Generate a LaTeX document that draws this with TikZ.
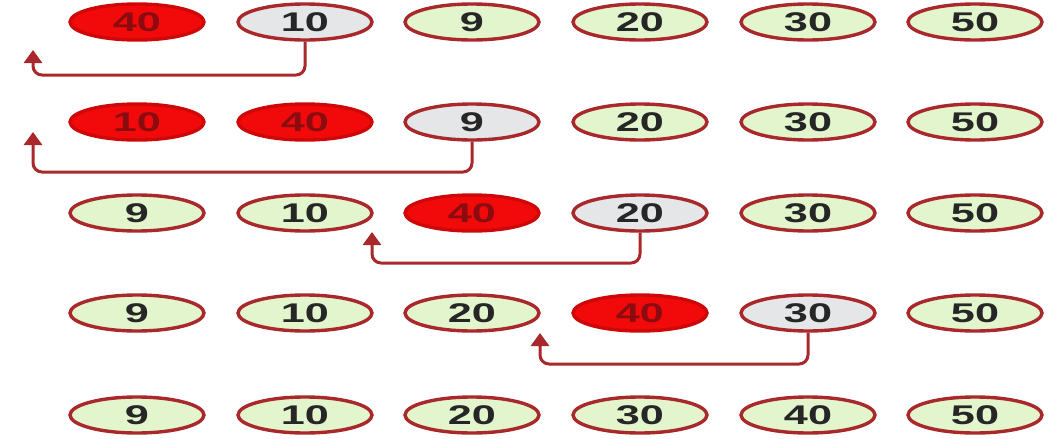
\documentclass[tikz,border=0pt]{standalone}
\usepackage{fontspec}
\setmainfont{Liberation Sans}[FakeStretch=1.6]
\usetikzlibrary{shapes.geometric,arrows.meta}
\definecolor{rim}{HTML}{A8282C}
\definecolor{hot}{HTML}{F20A0A}
\definecolor{hottext}{HTML}{8A0C10}
\definecolor{cur}{HTML}{E4E6E8}
\definecolor{done}{HTML}{E2F5CC}
\tikzset{
  cell/.style={ellipse, draw=rim, line width=3.4pt, minimum width=134pt, minimum height=36pt,
    inner sep=0pt, font=\fontsize{27}{27}\selectfont\bfseries, text=black!85},
  plain/.style={cell, fill=done},
  pick/.style={cell, fill=cur},
  moved/.style={cell, fill=hot, draw=hot!85!black, text=hottext},
  back/.style={draw=rim, line width=3pt, rounded corners=9pt, -{Triangle[width=18pt,length=13pt]}}
}
\begin{document}
\begin{tikzpicture}[x=1pt,y=-1pt]
\useasboundingbox (0,0) rectangle (1053,439);
% row 1
\node[moved] (a1) at (137,22) {40};
\node[pick]  (a2) at (305,22) {10};
\node[plain] (a3) at (472,22) {9};
\node[plain] (a4) at (640,22) {20};
\node[plain] (a5) at (808,22) {30};
\node[plain] (a6) at (975,22) {50};
\coordinate (t1) at (33,50);
\draw[back] (a2.south) |- (33,75) -- (t1);
% row 2
\node[moved] (b1) at (137,122) {10};
\node[moved] (b2) at (305,122) {40};
\node[pick]  (b3) at (472,122) {9};
\node[plain] (b4) at (640,122) {20};
\node[plain] (b5) at (808,122) {30};
\node[plain] (b6) at (975,122) {50};
\coordinate (t2) at (33,132);
\draw[back] (b3.south) |- (33,172) -- (t2);
% row 3
\node[plain] (c1) at (137,213) {9};
\node[plain] (c2) at (305,213) {10};
\node[moved] (c3) at (472,213) {40};
\node[pick]  (c4) at (640,213) {20};
\node[plain] (c5) at (808,213) {30};
\node[plain] (c6) at (975,213) {50};
\coordinate (t3) at (372,232);
\draw[back] (c4.south) |- (372,263) -- (t3);
% row 4
\node[plain] (d1) at (137,313) {9};
\node[plain] (d2) at (305,313) {10};
\node[plain] (d3) at (472,313) {20};
\node[moved] (d4) at (640,313) {40};
\node[pick]  (d5) at (808,313) {30};
\node[plain] (d6) at (975,313) {50};
\coordinate (t4) at (540,333);
\draw[back] (d5.south) |- (540,364) -- (t4);
% row 5
\node[plain] (e1) at (137,415) {9};
\node[plain] (e2) at (305,415) {10};
\node[plain] (e3) at (472,415) {20};
\node[plain] (e4) at (640,415) {30};
\node[plain] (e5) at (808,415) {40};
\node[plain] (e6) at (975,415) {50};
\end{tikzpicture}
\end{document}
